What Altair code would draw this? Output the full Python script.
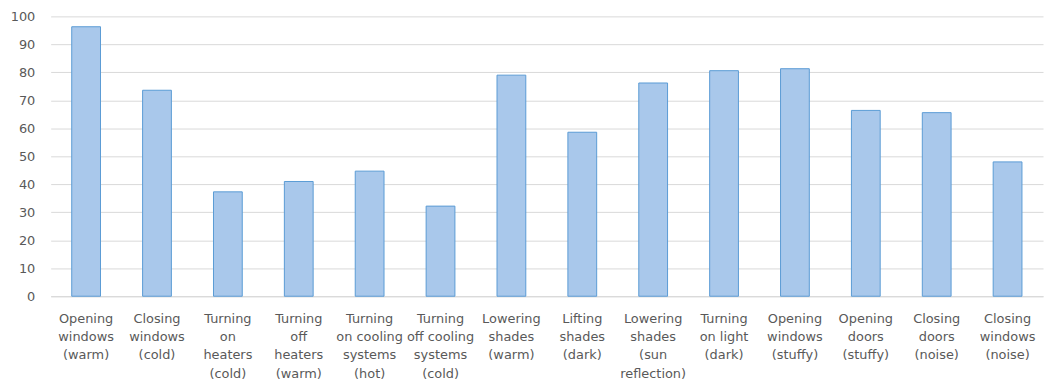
import altair as alt
import pandas as pd

labels = [
    "Opening|windows|(warm)",
    "Closing|windows|(cold)",
    "Turning|on|heaters|(cold)",
    "Turning|off|heaters|(warm)",
    "Turning|on cooling|systems|(hot)",
    "Turning|off cooling|systems|(cold)",
    "Lowering|shades|(warm)",
    "Lifting|shades|(dark)",
    "Lowering|shades|(sun|reflection)",
    "Turning|on light|(dark)",
    "Opening|windows|(stuffy)",
    "Opening|doors|(stuffy)",
    "Closing|doors|(noise)",
    "Closing|windows|(noise)",
]
values = [96.3, 73.6, 37.3, 41.0, 44.7, 32.2, 79.0, 58.6, 76.2, 80.6, 81.3, 66.4, 65.6, 48.0]

df = pd.DataFrame({"label": labels, "value": values})

chart = (
    alt.Chart(df)
    .mark_bar(size=29, fill="#A9C8EB", stroke="#5B9BD5", strokeWidth=1)
    .encode(
        x=alt.X(
            "label:N",
            sort=None,
            title=None,
            axis=alt.Axis(
                labelExpr="split(datum.label, '|')",
                labelAngle=0,
                labelFont="DejaVu Sans",
                labelFontSize=13,
                labelColor="#595959",
                labelLineHeight=18.5,
                labelPadding=16,
                labelBaseline="top",
                ticks=False,
                domainColor="#D9D9D9",
                grid=False,
                labelLimit=0,
            ),
            scale=alt.Scale(paddingInner=0, paddingOuter=0),
        ),
        y=alt.Y(
            "value:Q",
            title=None,
            scale=alt.Scale(domain=[0, 100], nice=False),
            axis=alt.Axis(
                values=list(range(0, 101, 10)),
                labelFont="DejaVu Sans",
                labelFontSize=13,
                labelColor="#595959",
                labelPadding=16,
                ticks=False,
                domain=False,
                gridColor="#D9D9D9",
                gridWidth=1,
            ),
        ),
    )
    .properties(
        width=1000,
        height=282,
        autosize=alt.AutoSizeParams(type="none"),
        padding={"left": 43, "top": 7, "right": 2, "bottom": 87},
    )
    .configure_view(stroke=None)
)

chart.save("out.html", embed_options={"renderer": "svg", "actions": False})
